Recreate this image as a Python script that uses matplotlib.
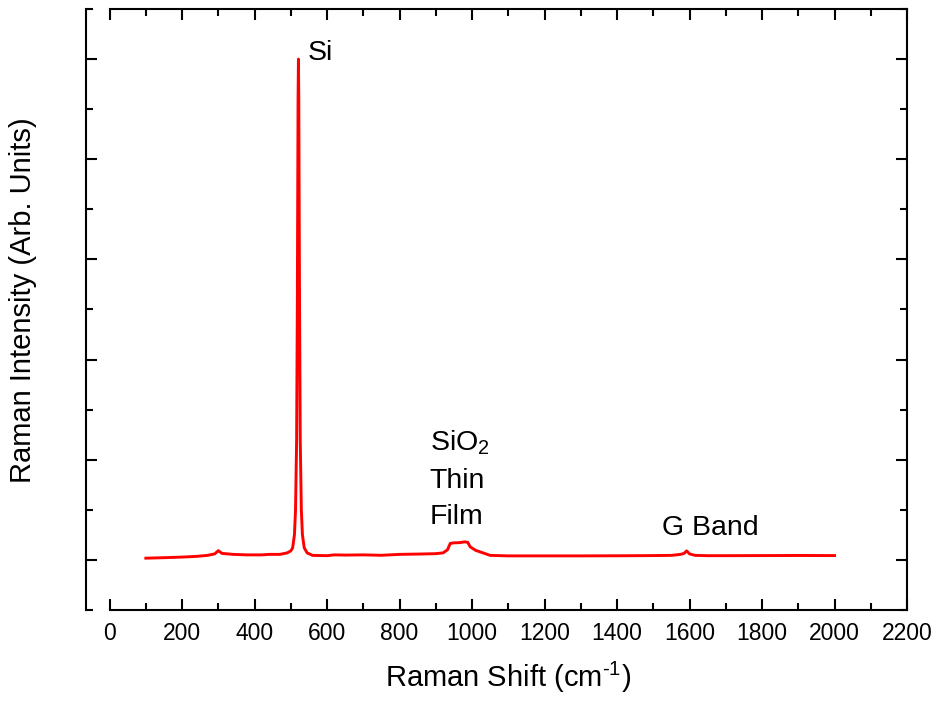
import numpy as np
import matplotlib
matplotlib.use('Agg')
import matplotlib.pyplot as plt
from matplotlib.ticker import MultipleLocator

plt.rcParams['font.family'] = ['Liberation Sans', 'DejaVu Sans']
plt.rcParams['mathtext.fontset'] = 'custom'
plt.rcParams['mathtext.rm'] = 'Liberation Sans'
plt.rcParams['mathtext.default'] = 'regular'

# spectrum (shift in cm-1, intensity arb. units)
shift = [100, 150, 200, 240, 270, 290, 300, 310, 340, 380, 420, 440, 470,
         490, 500, 505, 510, 513, 516, 518, 520, 521, 522, 524, 526, 529,
         532, 537, 545, 560, 600, 620, 650, 700, 750, 800, 850, 900, 920,
         932, 940, 950, 965, 980, 988, 995, 1010, 1030, 1050, 1100, 1200,
         1300, 1400, 1500, 1550, 1575, 1585, 1592, 1600, 1615, 1650, 1700,
         1800, 1900, 2000]
intensity = [0.017, 0.022, 0.028, 0.035, 0.045, 0.06, 0.092, 0.065, 0.055,
             0.05, 0.05, 0.055, 0.055, 0.07, 0.09, 0.12, 0.25, 0.5, 1.2, 2.6,
             4.6, 5.0, 4.6, 2.6, 1.2, 0.5, 0.25, 0.12, 0.07, 0.045, 0.042,
             0.05, 0.048, 0.05, 0.046, 0.055, 0.058, 0.062, 0.07, 0.1, 0.165,
             0.17, 0.172, 0.18, 0.175, 0.13, 0.095, 0.07, 0.045, 0.04, 0.04,
             0.04, 0.041, 0.043, 0.045, 0.055, 0.065, 0.09, 0.06, 0.045,
             0.042, 0.042, 0.043, 0.044, 0.043]

labels = ['Si', 'SiO$_2$', 'Thin', 'Film', 'G Band']
label_x = [547, 883, 883, 883, 1524]
label_y = [5.06, 1.17, 0.79, 0.43, 0.32]

fig = plt.figure(figsize=(9.38, 7.02), dpi=100)
ax = fig.add_axes([0.0917, 0.1311, 0.8753, 0.8561])

ax.plot(shift, intensity, color='red', lw=2.1)

for t, x, y in zip(labels, label_x, label_y):
    ax.text(x, y, t, fontsize=20.5, va='center', ha='left')

ax.set_xlim(-65, 2200)
ax.set_ylim(-0.5, 5.5)
ax.spines['bottom'].set_bounds(0, 2200)
ax.spines['top'].set_bounds(0, 2200)
for s in ax.spines.values():
    s.set_linewidth(1.5)

ax.xaxis.set_major_locator(MultipleLocator(200))
ax.xaxis.set_minor_locator(MultipleLocator(100))
ax.yaxis.set_major_locator(MultipleLocator(1))
ax.yaxis.set_minor_locator(MultipleLocator(0.5))
ax.tick_params(which='both', direction='in', top=True, right=True, width=1.5)
ax.tick_params(which='major', length=8, labelsize=16.5, pad=9)
ax.tick_params(which='minor', length=5)
ax.tick_params(axis='y', labelleft=False)

ax.set_xlabel(r'Raman Shift (cm$^{\text{-}1}$)', fontsize=21)
ax.set_ylabel('Raman Intensity (Arb. Units)', fontsize=21)
ax.xaxis.set_label_coords(0.514, -0.083)
ax.yaxis.set_label_coords(-0.06, 0.516)

fig.savefig('out.png', dpi=100)
